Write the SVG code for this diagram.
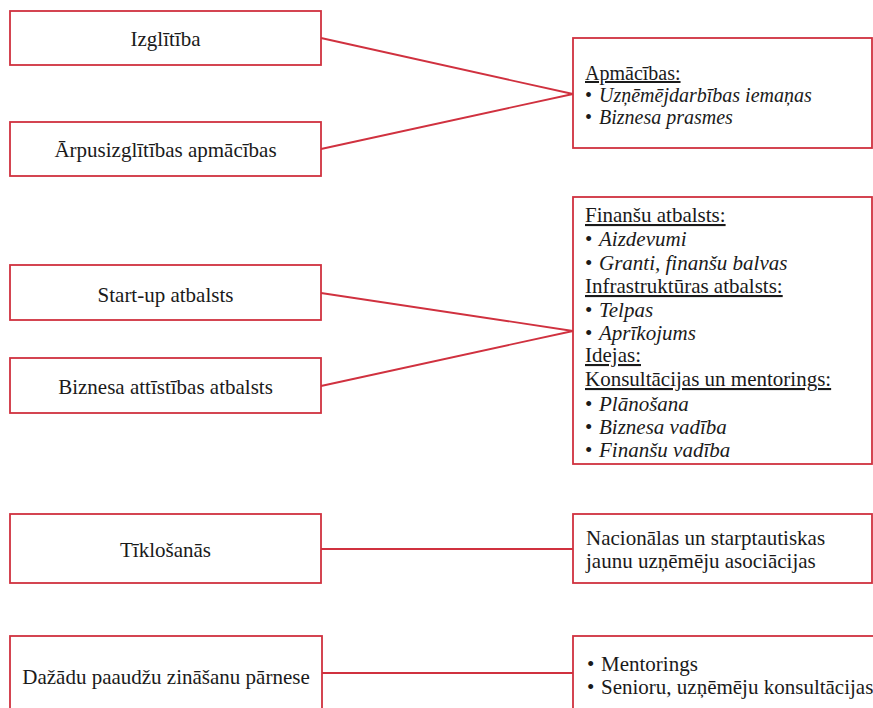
<svg xmlns="http://www.w3.org/2000/svg" width="873" height="708" viewBox="0 0 873 708">
<style>
.box{fill:#fff;stroke:#d0313f;stroke-width:1.8}
.con{stroke:#d0313f;stroke-width:1.8;fill:none}
text{font-family:"Liberation Serif","Times New Roman",serif;font-size:21px;fill:#1a1a1a}
.c{text-anchor:middle}
.i{font-style:italic}
.u{text-decoration:underline}
.s{font-size:20px}
</style>
<rect width="873" height="708" fill="#fff"/>
<g id="connectors">
<line class="con" x1="321" y1="38" x2="573" y2="94"/>
<line class="con" x1="321" y1="149" x2="573" y2="94"/>
<line class="con" x1="321" y1="293" x2="573" y2="331"/>
<line class="con" x1="321" y1="386" x2="573" y2="331"/>
<line class="con" x1="321" y1="549" x2="573" y2="549"/>
<line class="con" x1="322" y1="673" x2="573" y2="673"/>
</g>
<g id="izglitiba">
<rect class="box" x="10" y="11" width="311" height="54"/>
<text class="c" x="165.5" y="46">Izglītība</text>
</g>
<g id="arpusizglitibas">
<rect class="box" x="10" y="122" width="311" height="54"/>
<text class="c" x="165.5" y="157">Ārpusizglītības apmācības</text>
</g>
<g id="startup">
<rect class="box" x="10" y="265" width="311" height="55"/>
<text class="c" x="165.5" y="302">Start-up atbalsts</text>
</g>
<g id="biznesa-attistibas">
<rect class="box" x="10" y="358" width="311" height="55"/>
<text class="c" x="165.5" y="394">Biznesa attīstības atbalsts</text>
</g>
<g id="tiklosanas">
<rect class="box" x="10" y="514" width="311" height="69"/>
<text class="c" x="165.5" y="557">Tīklošanās</text>
</g>
<g id="dazadu">
<rect class="box" x="10" y="636" width="312" height="80"/>
<text class="c" x="166" y="684">Dažādu paaudžu zināšanu pārnese</text>
</g>
<g id="apmacibas">
<rect class="box" x="573" y="38" width="299" height="110"/>
<text class="u s" x="585" y="80">Apmācības:</text>
<text class="s" x="585" y="102">•</text><text class="i s" x="599" y="102">Uzņēmējdarbības iemaņas</text>
<text class="s" x="585" y="124">•</text><text class="i s" x="599" y="124">Biznesa prasmes</text>
</g>
<g id="atbalsts">
<rect class="box" x="573" y="197" width="299" height="267"/>
<text class="u" x="585" y="222">Finanšu atbalsts:</text>
<text x="585" y="246">•</text><text class="i" x="599" y="246">Aizdevumi</text>
<text x="585" y="270">•</text><text class="i" x="599" y="270">Granti, finanšu balvas</text>
<text class="u" x="585" y="293">Infrastruktūras atbalsts:</text>
<text x="585" y="317">•</text><text class="i" x="599" y="317">Telpas</text>
<text x="585" y="340">•</text><text class="i" x="599" y="340">Aprīkojums</text>
<text class="u" x="585" y="362">Idejas:</text>
<text class="u" x="585" y="386">Konsultācijas un mentorings:</text>
<text x="585" y="411">•</text><text class="i" x="599" y="411">Plānošana</text>
<text x="585" y="434">•</text><text class="i" x="599" y="434">Biznesa vadība</text>
<text x="585" y="457">•</text><text class="i" x="599" y="457">Finanšu vadība</text>
</g>
<g id="asociacijas">
<rect class="box" x="573" y="514" width="299" height="69"/>
<text x="586" y="545">Nacionālas un starptautiskas</text>
<text x="586" y="568">jaunu uzņēmēju asociācijas</text>
</g>
<g id="mentorings">
<rect class="box" x="573" y="636" width="320" height="80"/>
<text x="587" y="671">•</text><text x="601" y="671">Mentorings</text>
<text x="587" y="694">•</text><text x="601" y="694">Senioru, uzņēmēju konsultācijas</text>
</g>
</svg>
